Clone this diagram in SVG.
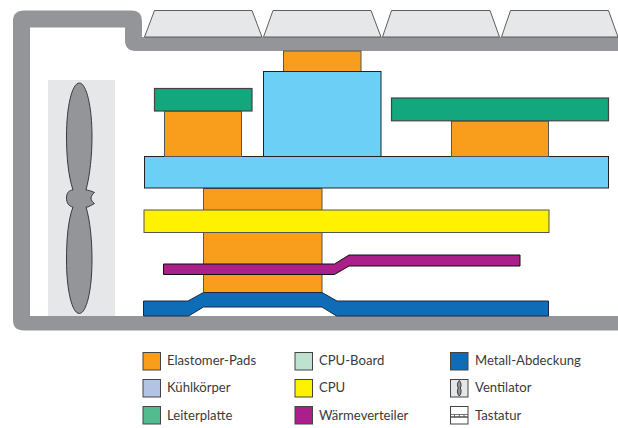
<svg xmlns="http://www.w3.org/2000/svg" width="618" height="428" viewBox="0 0 618 428">
<style>
.k{fill:#e6e7e8;stroke:#4d4d4f;stroke-width:.9}
.o{fill:#f99d1c;stroke:#555;stroke-width:1}
.b{fill:#6ccff6;stroke:#222;stroke-width:1}
.g{fill:#12a77d;stroke:#444;stroke-width:1.2}
.y{fill:#fff200;stroke:#555;stroke-width:1}
.m{fill:#ab1f8a;stroke:#111;stroke-width:1}
.d{fill:#0f6cb6;stroke:#1a2a44;stroke-width:1}
.f{fill:#939598;stroke:#3a3a3c;stroke-width:1}
.s{stroke:#444;stroke-width:1}
text{font-family:"Lato","Open Sans",sans-serif;font-size:13.1px;fill:#3a3a3c}
</style>
<g id="gehaeuse">
<path d="M618 330.500H24Q13 330.500 13 320V21Q13 10.500 24 10.500H132Q142 10.500 142 21V37H618V51H136Q125 51 125 40V27.500H30V316H618Z" fill="#939598"/>
</g>
<g id="tastatur">
<path class="k" d="M144.500 37 154.500 10.500H252L262 37Z"/>
<path class="k" d="M263.500 37 273 10.500H371L381 37Z"/>
<path class="k" d="M382.500 37 391.500 10.500H490L499.500 37Z"/>
<path class="k" d="M501.500 37 510.500 10.500H608.500L618 37Z"/>
</g>
<g id="ventilator">
<rect x="48" y="80" width="67" height="236" fill="#e6e7e8"/>
<path class="f" d="M79.300 83C72 83 66.500 107 66.500 136C66.500 155 68 175 73 190C69 190 66.500 193 66.500 198C66.500 203 69 206.500 73 207C68 220 66.500 240 66.500 260C66.500 290 72 313.500 79.300 313.500C86.500 313.500 92 290 92 260C92 240 90 220 86 207H88L94.500 203.500C92.500 202.500 91 200 91 198C91 196 93 193.500 94.500 192.500C91 191 88 190 86 190C90 175 92 155 92 136C92 107 86.500 83 79.300 83Z"/>
</g>
<g id="waermeverteiler-unten"><path class="o" d="M203.500 188.500H322V293H203.500Z"/></g>
<g id="cpu"><rect class="y" x="144" y="210" width="405" height="22.500"/></g>
<g id="waermeverteiler"><path class="m" d="M163.500 264H334.500L349 255H520V266H349L334.500 274.500H163.500Z"/></g>
<g id="metall-abdeckung"><path class="d" d="M143.500 301H188L203.500 292.500H322L337 301H548.500V316H336.500L322 307H203.500L188.500 316H143.500Z"/></g>
<g id="kuehlkoerper-board"><rect class="b" x="144.500" y="156.500" width="464" height="31.500"/></g>
<g id="kuehlkoerper-turm">
<rect class="o" x="283.500" y="51" width="77.500" height="20.500"/>
<rect class="b" x="263.500" y="71.500" width="117.500" height="85"/>
</g>
<g id="leiterplatte-links">
<rect class="o" x="164.500" y="111" width="77" height="45.500"/>
<rect class="g" x="154.500" y="88.500" width="97.500" height="22.500"/>
</g>
<g id="leiterplatte-rechts">
<rect class="o" x="451.500" y="121" width="97" height="35.500"/>
<rect class="g" x="391.500" y="98" width="217" height="22.800"/>
</g>
<g id="legende">
<g id="l1"><rect class="s" x="143" y="352.500" width="17.500" height="17.500" fill="#f99d1c"/><text x="167" y="365">Elastomer-Pads</text></g>
<g id="l2"><rect class="s" x="143" y="379.500" width="17.500" height="17.500" fill="#b3c3e4"/><text x="167" y="392">Kühlkörper</text></g>
<g id="l3"><rect class="s" x="143" y="406.500" width="17.500" height="17.500" fill="#53bb90"/><text x="167" y="420">Leiterplatte</text></g>
<g id="l4"><rect class="s" x="295" y="352.500" width="17.500" height="17.500" fill="#bde2d0"/><text x="319" y="365">CPU-Board</text></g>
<g id="l5"><rect class="s" x="295" y="379.500" width="17.500" height="17.500" fill="#fff200"/><text x="319" y="392">CPU</text></g>
<g id="l6"><rect class="s" x="295" y="406.500" width="17.500" height="17.500" fill="#ab1f8a"/><text x="319" y="420">Wärmeverteiler</text></g>
<g id="l7"><rect class="s" x="450.500" y="352.500" width="17.500" height="17.500" fill="#0f6cb6"/><text x="475" y="365">Metall-Abdeckung</text></g>
<g id="l8"><rect class="s" x="450.500" y="379.500" width="17.500" height="17.500" fill="#e6e7e8"/><path class="f" stroke-width=".5" d="M459.300 380.500C457 383 457 386 458.300 388C457 390 457 394 459.300 396C461.500 394 461.500 390 460.300 388C461.500 386 461.500 383 459.300 380.500Z"/><text x="475" y="392">Ventilator</text></g>
<g id="l9"><rect class="s" x="450.500" y="406.500" width="17.500" height="17.500" fill="#fff"/><path d="M450.500 417H468" stroke="#444" stroke-width="1.400" fill="none"/><path d="M450.500 414.500H468" stroke="#555" stroke-width=".8" fill="none"/><path d="M454.500 414.500V417M459.300 414.500V417M464 414.500V417" stroke="#444" stroke-width=".8" fill="none"/><text x="475" y="420">Tastatur</text></g>
</g>
</svg>
